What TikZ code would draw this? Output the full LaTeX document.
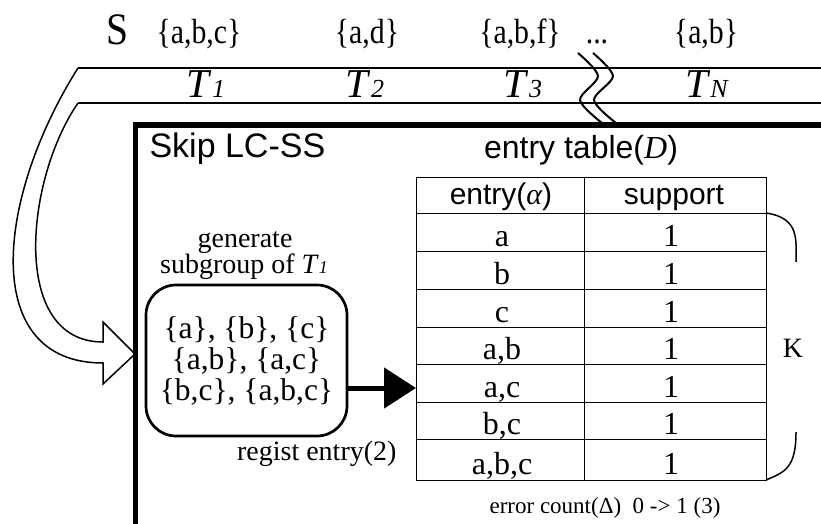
\documentclass[tikz,border=0pt]{standalone}
\usepackage{fontspec}
\setmainfont{Liberation Serif}
\setsansfont{Liberation Sans}
\usetikzlibrary{arrows.meta}
\newcommand\fsz[1]{\fontsize{#1}{#1}\selectfont}
\newcommand\tsub[2]{\textit{T}{\fsz{#2}\textit{#1}}}
\newcommand\cnd[1]{\scalebox{0.85}[1]{#1}}

\begin{document}
\begin{tikzpicture}[x=1pt, y=-1pt,
  band/.style={line width=1.5pt},
  setlbl/.style={anchor=base, font=\fsz{35}},
  tlbl/.style={anchor=base, font=\fsz{41}},
  cell/.style={anchor=base, font=\fsz{32}}]
  \useasboundingbox (0,0) rectangle (821,524);
  % Sequence S
  \node[anchor=base, font=\fsz{45}] (S) at (118,45) {\scalebox{0.88}[1]{S}};
  \node[setlbl] (s1) at (199,44) {\cnd{\{a,b,c\}}};
  \node[setlbl] (s2) at (367,44) {\cnd{\{a,d\}}};
  \node[setlbl] (s3) at (520,44) {\cnd{\{a,b,f\}}};
  \node[setlbl] (dots) at (597,44) {\cnd{...}};
  \node[setlbl] (sn) at (706,44) {\cnd{\{a,b\}}};
  % Band of transactions
  \draw[band] (78,68) -- (821,68);
  \draw[band] (78,103) -- (821,103);
  \node[tlbl] (t1) at (206,98) {\tsub{1}{26}};
  \node[tlbl] (t2) at (365,98) {\tsub{2}{26}};
  \node[tlbl] (t3) at (523,98) {\tsub{3}{26}};
  \node[tlbl] (tn) at (707,98) {\tsub{N}{26}};
  % Hollow arrow into the box
  \draw[band, fill=white] (78,68) .. controls (-5,200) and (-20,363) .. (103,363)
    -- (103,384) -- (135,354) -- (103,322) -- (103,342)
    .. controls (10,342) and (25,180) .. (78,103);
  % Break marks
  \draw[line width=2pt] plot[smooth] coordinates {(578,53) (598,76) (580,100) (602,123)};
  \draw[line width=2pt] plot[smooth] coordinates {(593,53) (613,76) (594,100) (616,123)};
  % Skip LC-SS box
  \draw[line width=5pt] (830,125) -- (135,125) -- (135,530);
  \node[anchor=base west, font=\sffamily\fsz{34}] (title) at (146,157) {Skip LC-SS};
  % Subgroups
  \node[anchor=base, font=\fsz{28}] (gen1) at (245,247) {generate};
  \node[anchor=base, font=\fsz{28}] (gen2) at (244,273) {subgroup of \tsub{1}{18}};
  \node[draw, line width=2.7pt, rounded corners=30pt, minimum width=201pt,
    minimum height=151pt, align=center, font=\fontsize{31.5}{31}\selectfont]
    (sub) at (246.5,360.5) {\{a\}, \{b\}, \{c\}\\\{a,b\}, \{a,c\}\\\{b,c\}, \{a,b,c\}};
  \node[anchor=base east, font=\fsz{28}] (reg) at (400,460) {regist entry(2)};
  % Entry table
  \node[anchor=base, font=\sffamily\fsz{32}] (ttitle) at (581,158)
    {entry table({\rmfamily\itshape D})};
  \node[draw, line width=1pt, anchor=north west, minimum width=350pt,
    minimum height=303pt, inner sep=0pt] (tab) at (416,177) {};
  \draw[line width=1pt] (584,177) -- (584,480);
  \foreach \y in {213,251,289,327,364,402,439}
    \draw[line width=1pt] (416,\y) -- (766,\y);
  \node[anchor=base, font=\sffamily\fsz{30}] (hent) at (501,204)
    {entry({\rmfamily\itshape α})};
  \node[anchor=base, font=\sffamily\fsz{30}] (hsup) at (674,204) {support};
  \foreach \e/\yb [count=\i] in {a/246, b/284, c/322, {a,b}/359, {a,c}/397, {b,c}/434, {a,b,c}/474}{
    \node[cell] (e\i) at (502,\yb) {\e};
    \node[cell] (v\i) at (671,\yb) {1};
  }
  % K brace
  \draw[band] (766,213) .. controls (800,218) and (796,240) .. (796,262);
  \draw[band] (796,432) .. controls (796,468) and (785,472) .. (766,480);
  \node[anchor=base, font=\fsz{28}] (K) at (793,357) {K};
  \node[anchor=base, font=\fsz{23}] (err) at (605,513) {error count(Δ)\ \ 0 -> 1 (3)};
  % Register arrow
  \coordinate (ay) at (0,388);
  \draw[line width=5pt, -{Triangle[length=32pt,width=40pt]}] (sub.east |- ay) -- (tab.west |- ay);
\end{tikzpicture}
\end{document}
